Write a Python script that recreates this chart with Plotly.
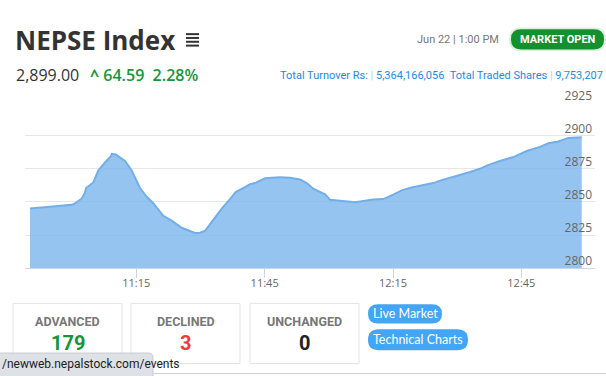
import plotly.graph_objects as go

W, H = 606, 376
DAY = "2023-06-22 "

# ---- data ----
times = ["10:50:09", "11:00:00", "11:01:04", "11:02:14", "11:03:00", "11:03:15", "11:04:57",
         "11:06:07", "11:07:41", "11:09:05", "11:09:15", "11:10:11", "11:12:22", "11:13:55",
         "11:15:52", "11:17:26", "11:18:58", "11:21:19", "11:23:16", "11:25:37", "11:28:43",
         "11:29:53", "11:31:04", "11:33:00", "11:34:58", "11:36:54", "11:38:14", "11:40:25",
         "11:41:35", "11:42:45", "11:45:05", "11:48:35", "11:50:56", "11:53:16", "11:54:50",
         "11:56:22", "11:59:07", "12:00:17", "12:03:23", "12:06:07", "12:10:24", "12:12:44",
         "12:15:04", "12:17:02", "12:19:20", "12:22:05", "12:24:26", "12:25:59", "12:27:56",
         "12:29:54", "12:31:26", "12:33:00", "12:35:20", "12:36:55", "12:40:20", "12:43:08",
         "12:46:16", "12:49:22", "12:51:19", "12:53:39", "12:55:59", "12:59:07"]
values = [2845.0, 2847.9, 2849.8, 2852.7, 2857.0, 2860.6, 2864.8,
          2873.9, 2879.9, 2884.7, 2886.4, 2885.9, 2881.1, 2873.9,
          2860.6, 2853.9, 2849.1, 2839.5, 2835.9, 2830.5, 2826.5,
          2826.8, 2828.2, 2836.6, 2845.0, 2852.2, 2857.5, 2861.2,
          2863.5, 2864.3, 2867.9, 2868.8, 2868.4, 2867.0, 2864.3,
          2860.0, 2855.8, 2851.7, 2851.0, 2849.9, 2851.8, 2852.2,
          2855.6, 2858.8, 2861.0, 2862.6, 2864.3, 2866.2, 2867.9,
          2869.8, 2870.8, 2872.7, 2875.1, 2877.5, 2881.4, 2884.0,
          2888.6, 2891.7, 2894.4, 2895.8, 2898.5, 2899.0]
x_tick_times = ["11:15", "11:45", "12:15", "12:45"]
y_tick_vals = [2800, 2825, 2850, 2875, 2900, 2925]
x_range_times = ["10:48:59", "13:02:13"]

index_title = "NEPSE Index"
index_value = "2,899.00"
index_change = "64.59"
index_change_pct = "2.28%"
as_of = "Jun 22 | 1:00 PM"
market_status = "MARKET OPEN"
turnover = "5,364,166,056"
traded_shares = "9,753,207"
breadth_labels = ["ADVANCED", "DECLINED", "UNCHANGED"]
breadth_values = [179, 3, 0]
breadth_colors = ["#16963a", "#f23a3a", "#222222"]
link_buttons = ["Live Market", "Technical Charts"]
status_url = "/newweb.nepalstock.com/events"

NARROW = "Liberation Sans Narrow, Roboto, sans-serif"


def px(x):
    return x / W


def py(y):
    return 1 - y / H


def rounded(x0, y0, x1, y1, r):
    """Rounded rectangle path in paper coordinates, from pixel coords."""
    pts = [
        ("M", [(x0 + r, y0)]),
        ("L", [(x1 - r, y0)]),
        ("Q", [(x1, y0), (x1, y0 + r)]),
        ("L", [(x1, y1 - r)]),
        ("Q", [(x1, y1), (x1 - r, y1)]),
        ("L", [(x0 + r, y1)]),
        ("Q", [(x0, y1), (x0, y1 - r)]),
        ("L", [(x0, y0 + r)]),
        ("Q", [(x0, y0), (x0 + r, y0)]),
    ]
    s = ""
    for cmd, ps in pts:
        s += cmd + " ".join(f"{px(a):.5f},{py(b):.5f}" for a, b in ps) + " "
    return s + "Z"


fig = go.Figure()
fig.add_trace(go.Scatter(
    x=[DAY + t for t in times], y=values, mode="lines",
    line=dict(color="#72afe9", width=2),
    fill="tozeroy", fillcolor="rgba(124,181,236,0.80)",
    hoverinfo="skip", showlegend=False,
))

fig.update_layout(
    width=W, height=H, margin=dict(l=0, r=0, t=0, b=0),
    paper_bgcolor="white", plot_bgcolor="white",
    font=dict(family="Open Sans", color="#333"),
    xaxis=dict(
        domain=[px(25), px(595)], type="date",
        range=[DAY + t for t in x_range_times],
        tickvals=[DAY + t for t in x_tick_times], ticktext=x_tick_times,
        showgrid=False, showline=True, linecolor="#ccd6eb", linewidth=1,
        ticks="outside", ticklen=9, tickcolor="#ccd6eb", tickwidth=1,
        ticklabelstandoff=-4,
        tickfont=dict(family="Open Sans", size=11, color="#666"),
        zeroline=False, fixedrange=True,
    ),
    yaxis=dict(
        domain=[py(264), py(91)], range=[2800, 2925],
        tickvals=y_tick_vals, side="right",
        ticklabelposition="inside", ticklabeloverflow="allow", ticklabelshift=-7,
        showgrid=True, gridcolor="#e6e6e6", gridwidth=1,
        showline=False, zeroline=False, ticks="",
        tickfont=dict(family="Open Sans", size=12, color="#666"),
        fixedrange=True,
    ),
)

shapes = []
ann = []

# ---- header ----
ann.append(dict(x=px(13), y=py(25), text=f"<b>{index_title}</b>", xanchor="left", yanchor="middle",
                font=dict(family="Open Sans", size=26, color="#333")))
for yy in [19, 23, 27, 31]:
    shapes.append(dict(type="line", xref="paper", yref="paper", x0=px(186), x1=px(199),
                       y0=py(yy), y1=py(yy), line=dict(color="#333", width=2)))
ann.append(dict(x=px(14), y=py(62), text=index_value, xanchor="left", yanchor="middle",
                font=dict(family="Open Sans", size=16, color="#333")))
ann.append(dict(x=px(88), y=py(62),
                text=f"<b>^</b> {index_change}&nbsp;&nbsp;{index_change_pct}",
                xanchor="left", yanchor="middle",
                font=dict(family="Open Sans", size=16, color="#17963b", weight=600)))
ann.append(dict(x=px(501), y=py(25), text=as_of, xanchor="right", yanchor="middle",
                font=dict(family="Roboto", size=11, color="#777")))
shapes.append(dict(type="path", xref="paper", yref="paper", path=rounded(509, 12, 606, 37, 12),
                   fillcolor="rgba(30,160,60,0.15)", line=dict(width=0)))
shapes.append(dict(type="path", xref="paper", yref="paper", path=rounded(511, 14, 604, 35, 10),
                   fillcolor="#15902f", line=dict(width=0)))
ann.append(dict(x=px(557.5), y=py(25), text=f"<b>{market_status}</b>", xanchor="center",
                yanchor="middle", font=dict(family="Roboto", size=11, color="white")))
ann.append(dict(x=px(605), y=py(62),
                text=(f"Total Turnover Rs: <span style='color:#b3d4f5'>|</span> {turnover}"
                      f"&nbsp;&nbsp;Total Traded Shares <span style='color:#b3d4f5'>|</span> {traded_shares}"),
                xanchor="right", yanchor="middle",
                font=dict(family="Roboto", size=11, color="#1e88e5")))

# ---- breadth boxes ----
boxes = [(13, 122), (131, 240), (250, 359)]
for (x0, x1), lab, val, col in zip(boxes, breadth_labels, breadth_values, breadth_colors):
    shapes.append(dict(type="rect", xref="paper", yref="paper", x0=px(x0), x1=px(x1),
                       y0=py(301), y1=py(364), line=dict(color="#e3e3e3", width=1),
                       fillcolor="white"))
    cx = (x0 + x1) / 2
    ann.append(dict(x=px(cx), y=py(320), text=f"<b>{lab}</b>", xanchor="center", yanchor="middle",
                    font=dict(family=NARROW, size=12.5, color="#777")))
    ann.append(dict(x=px(cx), y=py(342), text=f"<b>{val}</b>", xanchor="center", yanchor="middle",
                    font=dict(family=NARROW, size=20, color=col)))

# ---- link buttons ----
btns = [(368, 442, 302, 322), (368, 468, 328, 350)]
for (x0, x1, y0, y1), lab in zip(btns, link_buttons):
    shapes.append(dict(type="path", xref="paper", yref="paper",
                       path=rounded(x0, y0, x1, y1, (y1 - y0) / 2),
                       fillcolor="#42a5f5", line=dict(width=0)))
    ann.append(dict(x=px((x0 + x1) / 2), y=py((y0 + y1) / 2), text=lab, xanchor="center",
                    yanchor="middle", font=dict(family="Lato", size=12.5, color="white")))

# ---- browser status bar ----
shapes.append(dict(type="line", xref="paper", yref="paper", x0=px(150), x1=px(606),
                   y0=py(374.5), y1=py(374.5), line=dict(color="#d0d0d0", width=1)))
shapes.append(dict(type="path", xref="paper", yref="paper",
                   path=(f"M{px(-2):.5f},{py(353):.5f} L{px(148):.5f},{py(353):.5f} "
                         f"Q{px(153):.5f},{py(353):.5f} {px(153):.5f},{py(358):.5f} "
                         f"L{px(153):.5f},{py(378):.5f} L{px(-2):.5f},{py(378):.5f} Z"),
                   fillcolor="#dee1e6", line=dict(color="#c9ccd1", width=1)))
ann.append(dict(x=px(0), y=py(365), text=status_url, xanchor="left", yanchor="middle",
                font=dict(family="Roboto", size=12, color="#202124")))

for a in ann:
    a.update(xref="paper", yref="paper", showarrow=False)
fig.update_layout(shapes=shapes, annotations=ann)

fig.write_html("out.html", config={"displayModeBar": False},
               post_script=("document.body.style.margin='0';"
                            "document.documentElement.style.overflow='hidden';"
                            "document.body.style.overflow='hidden';"))
